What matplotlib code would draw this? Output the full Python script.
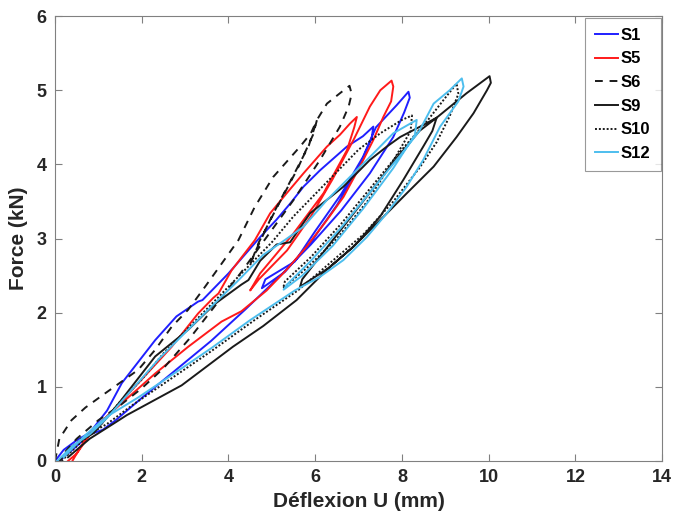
import matplotlib
matplotlib.use("Agg")
import matplotlib.pyplot as plt

plt.rcParams["font.family"] = ["Liberation Sans", "DejaVu Sans"]

# S1 (blue): load -> first peak -> partial unload -> reload -> peak -> unload
s1_x = [0, 0.2, 0.5, 0.8, 1.2, 1.54, 2.31, 2.8, 3.3, 3.4, 4.0, 4.73, 5.1, 5.42, 5.73, 6.11, 6.73, 7.1, 7.34,
        7.3, 7.0, 6.5, 5.9, 5.3, 4.77,
        4.85, 5.53, 6.0, 6.6, 7.1, 7.4, 7.88, 8.15,
        8.18, 8.05, 7.8, 7.26, 6.6, 5.9, 5.2, 4.4, 3.6, 2.77, 2.0, 1.4, 1.1, 0.8, 0.4, 0.1]
s1_y = [0, 0.15, 0.28, 0.38, 0.68, 1.05, 1.63, 1.95, 2.15, 2.17, 2.53, 3.02, 3.25, 3.47, 3.7, 3.92, 4.24, 4.38, 4.51,
        4.35, 3.95, 3.45, 2.95, 2.55, 2.33,
        2.45, 2.69, 3.1, 3.6, 4.1, 4.5, 4.8, 4.98,
        4.9, 4.7, 4.37, 3.88, 3.38, 2.92, 2.5, 2.05, 1.62, 1.22, 0.85, 0.55, 0.42, 0.36, 0.15, 0]

# S5 (red)
s5_x = [0.3, 0.5, 0.7, 1.0, 1.5, 1.92, 2.69, 3.3, 3.65, 3.77, 4.07, 4.61, 4.96, 5.34, 5.73, 6.27, 6.57, 6.8, 6.96,
        6.9, 6.73, 6.19, 5.5, 4.73, 4.5,
        4.7, 5.35, 5.9, 6.4, 6.9, 7.26, 7.5, 7.76,
        7.8, 7.75, 7.57, 7.34, 7.03, 6.65, 6.27, 5.8, 5.34, 4.88, 4.3, 3.84, 3.07, 2.31, 1.54, 1.1, 0.8, 0.5, 0.4]
s5_y = [0, 0.1, 0.3, 0.48, 0.78, 1.05, 1.54, 1.99, 2.2, 2.26, 2.57, 2.98, 3.34, 3.61, 3.88, 4.24, 4.4, 4.55, 4.64,
        4.5, 4.19, 3.61, 3.07, 2.53, 2.3,
        2.45, 2.84, 3.3, 3.8, 4.35, 4.78, 5.0, 5.13,
        5.05, 4.85, 4.64, 4.33, 3.97, 3.56, 3.25, 2.89, 2.58, 2.3, 2.02, 1.88, 1.54, 1.18, 0.78, 0.55, 0.35, 0.1, 0]

# S6 (black dashed)
s6_x = [0, 0.1, 0.38, 0.7, 1.15, 1.92, 2.31, 2.69, 3.07, 3.46, 3.84, 4.23, 4.6, 5.03, 5.65, 5.9, 6.04,
        5.95, 5.6, 5.1, 4.7, 4.5,
        4.6, 5.0, 5.45, 5.85, 6.04, 6.27, 6.57, 6.79,
        6.84, 6.77, 6.57, 6.11, 5.5, 4.88, 4.3, 3.7, 3.1, 2.5, 2.0, 1.5, 1.0, 0.5, 0.2, 0.1]
s6_y = [0, 0.3, 0.55, 0.72, 0.91, 1.23, 1.5, 1.81, 2.04, 2.35, 2.66, 2.98, 3.42, 3.83, 4.24, 4.42, 4.6,
        4.4, 3.95, 3.4, 2.95, 2.65,
        2.8, 3.3, 3.8, 4.25, 4.6, 4.82, 4.96, 5.06,
        4.95, 4.78, 4.51, 4.06, 3.52, 3.02, 2.55, 2.1, 1.65, 1.25, 0.98, 0.75, 0.55, 0.3, 0.1, 0]

# S9 (black solid)
s9_x = [0.1, 0.4, 0.9, 1.5, 2.31, 3.07, 3.69, 4.3, 4.46, 4.73, 5.11, 5.42, 5.88, 6.65, 7.26, 7.65, 7.96, 8.42, 8.8,
        8.7, 8.49, 8.03, 7.5, 6.9, 6.3, 5.65,
        5.7, 6.1, 6.7, 7.3, 7.9, 8.4, 8.8, 9.49, 10.02,
        10.05, 9.96, 9.65, 9.26, 8.73, 8.11, 7.5, 6.88, 6.27, 5.57, 4.8, 4.1, 2.92, 1.66, 1.34, 0.8, 0.3]
s9_y = [0, 0.2, 0.38, 0.8, 1.41, 1.77, 2.12, 2.38, 2.44, 2.7, 2.92, 2.95, 3.34, 3.7, 4.06, 4.24, 4.37, 4.51, 4.63,
        4.45, 4.24, 3.79, 3.3, 2.9, 2.6, 2.35,
        2.45, 2.75, 3.2, 3.65, 4.1, 4.45, 4.63, 4.96, 5.19,
        5.1, 5.0, 4.69, 4.37, 3.97, 3.61, 3.25, 2.89, 2.58, 2.17, 1.82, 1.54, 1.02, 0.62, 0.5, 0.3, 0.05]

# S10 (black dotted)
s10_x = [0.15, 0.5, 1.0, 1.5, 2.0, 2.5, 3.0, 3.5, 4.0, 4.5, 5.0, 5.5, 6.0, 6.5, 7.0, 7.5, 8.0, 8.23,
         8.2, 7.8, 7.2, 6.5, 5.8, 5.26,
         5.3, 5.9, 6.6, 7.3, 8.0, 8.6, 9.0, 9.26,
         9.3, 9.1, 8.8, 8.4, 7.8, 7.1, 6.4, 5.6, 4.6, 3.6, 2.6, 1.8, 1.2, 0.6, 0.2]
s10_y = [0, 0.2, 0.45, 0.8, 1.1, 1.45, 1.75, 2.05, 2.35, 2.65, 2.95, 3.3, 3.6, 3.9, 4.2, 4.42, 4.6, 4.66,
         4.45, 4.05, 3.5, 3.0, 2.6, 2.33,
         2.42, 2.75, 3.2, 3.7, 4.2, 4.6, 4.9, 5.09,
         4.95, 4.65, 4.3, 3.95, 3.5, 3.05, 2.7, 2.3, 1.9, 1.48, 1.08, 0.76, 0.5, 0.3, 0.05]

# S12 (light blue)
s12_x = [0.05, 0.4, 0.8, 1.2, 1.8, 2.4, 3.0, 3.6, 4.2, 4.8, 5.3, 5.73, 6.27, 6.73, 7.26, 7.8, 8.1, 8.34,
         8.3, 7.8, 7.1, 6.4, 5.7, 5.27,
         5.35, 5.9, 6.6, 7.3, 8.0, 8.4, 8.73, 9.1, 9.38,
         9.42, 9.3, 8.88, 8.49, 8.11, 7.65, 7.19, 6.65, 6.1, 5.53, 4.5, 3.6, 2.77, 1.9, 1.2, 0.7, 0.2]
s12_y = [0, 0.2, 0.36, 0.58, 0.98, 1.38, 1.73, 2.08, 2.42, 2.78, 2.98, 3.16, 3.52, 3.79, 4.1, 4.42, 4.52, 4.6,
         4.4, 3.95, 3.4, 2.9, 2.5, 2.31,
         2.38, 2.7, 3.15, 3.65, 4.15, 4.45, 4.82, 5.0, 5.16,
         5.05, 4.85, 4.51, 4.06, 3.7, 3.34, 3.02, 2.71, 2.48, 2.3, 1.9, 1.52, 1.19, 0.85, 0.6, 0.35, 0.05]

series = [
    ("S1", s1_x, s1_y, "#1f1fff", "-"),
    ("S5", s5_x, s5_y, "#ff1a1a", "-"),
    ("S6", s6_x, s6_y, "#1a1a1a", (0, (4, 3.5))),
    ("S9", s9_x, s9_y, "#1a1a1a", "-"),
    ("S10", s10_x, s10_y, "#1a1a1a", (0, (1, 1))),
    ("S12", s12_x, s12_y, "#4dbeee", "-"),
]

fig = plt.figure(figsize=(6.75, 5.2), dpi=100)
ax = fig.add_axes([0.0815, 0.1135, 0.8995, 0.8555])

for name, xs, ys, color, ls in series:
    ax.plot(xs, ys, color=color, linestyle=ls, linewidth=1.4, label=name)

ax.set_xlim(0, 14)
ax.set_ylim(0, 6)
ax.set_xticks(range(0, 15, 2))
ax.set_yticks(range(0, 7))
ax.tick_params(direction="in", length=5, width=0.8, color="#808080",
               labelcolor="#262626", labelsize=13, pad=6, top=True, right=True)
for lab in ax.get_xticklabels() + ax.get_yticklabels():
    lab.set_fontweight("bold")
for sp in ax.spines.values():
    sp.set_color("#808080")
    sp.set_linewidth(0.8)

ax.set_xlabel("Déflexion U (mm)", fontsize=15, fontweight="bold", color="#262626", labelpad=4)
ax.set_ylabel("Force (kN)", fontsize=15, fontweight="bold", color="#262626", labelpad=6)

leg = ax.legend(loc="upper right", fontsize=12, frameon=True, fancybox=False,
                handlelength=1.4, borderaxespad=0.1, borderpad=0.6,
                labelspacing=0.52, handletextpad=0.15)
leg.get_frame().set_edgecolor("#808080")
leg.get_frame().set_linewidth(0.8)
for t in leg.get_texts():
    t.set_fontweight("bold")

fig.savefig("out.png", dpi=100)
